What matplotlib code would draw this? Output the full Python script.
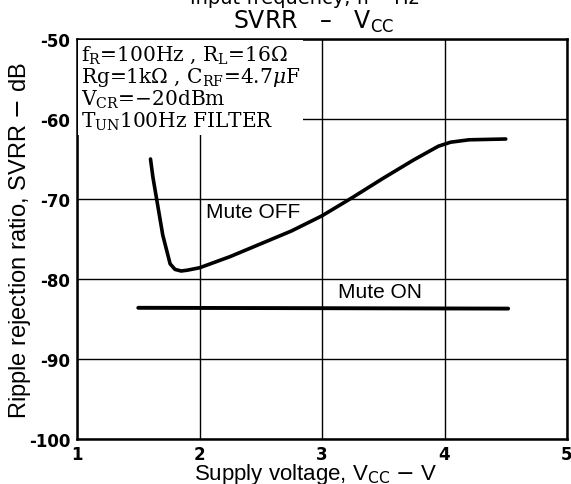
import matplotlib
matplotlib.use("Agg")
import matplotlib.pyplot as plt

# Mute OFF curve
vcc_off = [1.60, 1.62, 1.65, 1.70, 1.76, 1.80, 1.85, 1.90, 2.0, 2.25, 2.5, 2.75, 3.0, 3.25, 3.5, 3.75, 3.95, 4.05, 4.2, 4.5]
svrr_off = [-65.0, -67.3, -70.0, -74.5, -78.1, -78.8, -79.0, -78.9, -78.6, -77.2, -75.6, -74.0, -72.1, -69.8, -67.4, -65.1, -63.4, -62.9, -62.6, -62.5]
# Mute ON
vcc_on = [1.5, 4.52]
svrr_on = [-83.6, -83.7]

x_ticks = [1, 2, 3, 4, 5]
y_ticks = [-50, -60, -70, -80, -90, -100]
y_labels = ["-50", "-60", "-70", "-80", "-90", "-100"]

conditions = (r"f$_\mathrm{R}$=100Hz , R$_\mathrm{L}$=16$\Omega$" "\n"
              r"Rg=1k$\Omega$ , C$_\mathrm{RF}$=4.7$\mu$F" "\n"
              r"V$_\mathrm{CR}$=$-$20dBm" "\n"
              r"T$_\mathrm{UN}$100Hz FILTER")

plt.rcParams['mathtext.fontset'] = 'dejavuserif'

fig = plt.figure(figsize=(5.71, 4.85), dpi=100)
ax = fig.add_axes([77/571, 1-440/485, 490/571, 400/485])

ax.set_xlim(1, 5)
ax.set_ylim(-100, -50)
ax.set_xticks(x_ticks)
ax.set_yticks(y_ticks)
ax.set_yticklabels(y_labels)
ax.grid(True, color="black", linewidth=1.0)
for s in ax.spines.values():
    s.set_linewidth(1.8)
ax.tick_params(length=0, labelsize=12)
ax.tick_params(axis="y", pad=5)
ax.tick_params(axis="x", pad=4)
for lab in ax.get_xticklabels() + ax.get_yticklabels():
    lab.set_fontweight("bold")
    lab.set_family("DejaVu Sans")

ax.plot(vcc_off, svrr_off, color="black", linewidth=2.6, solid_capstyle="round")
ax.plot(vcc_on, svrr_on, color="black", linewidth=2.8, solid_capstyle="round")

ax.text(1.03, -50.5, conditions, family="DejaVu Serif", fontsize=14.5, va="top", ha="left",
        linespacing=1.0, bbox=dict(facecolor="white", edgecolor="none", pad=2))
ax.text(2.05, -71.6, "Mute OFF", family="Liberation Sans", fontsize=15, va="center", ha="left",
        bbox=dict(facecolor="white", edgecolor="none", pad=0.5))
ax.text(3.47, -81.6, "Mute ON", family="Liberation Sans", fontsize=15, va="center", ha="center",
        bbox=dict(facecolor="white", edgecolor="none", pad=0.5))

plt.rcParams['mathtext.fontset'] = 'custom'
plt.rcParams['mathtext.rm'] = 'Liberation Sans'
fig.text(316/571, 1-480/485, r"Supply voltage, V$_\mathrm{CC}$ $\mathrm{-}$ V", family="Liberation Sans",
         fontsize=16, ha="center", va="baseline")
fig.text(20/571, 1-241/485, r"Ripple rejection ratio, SVRR $\mathrm{-}$ dB", family="Liberation Sans",
         fontsize=17, ha="center", va="center", rotation=90)

plt.rcParams['mathtext.rm'] = 'DejaVu Sans'
fig.text(314/571, 1-22/485, r"SVRR   –   V$_\mathrm{CC}$", family="DejaVu Sans", fontsize=17, ha="center", va="center")
fig.text(305/571, 1+1/485, r"Input frequency, fr – Hz", family="DejaVu Sans", fontsize=14, ha="center", va="center")

fig.savefig("out.png", dpi=100)
